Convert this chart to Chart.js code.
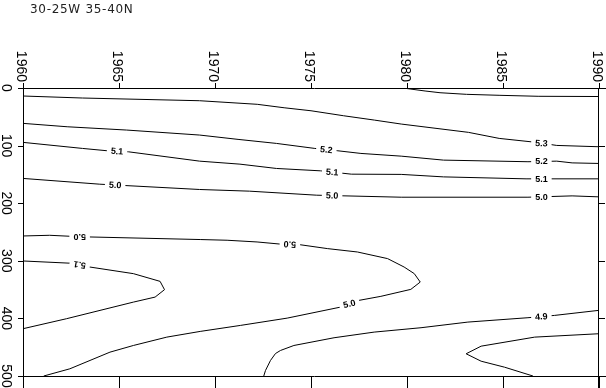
<!DOCTYPE html>
<html lang="en">
  <head>
    <meta charset="utf-8" />
    <title>30-25W 35-40N</title>
    <style>
      * {
        margin: 0;
        padding: 0;
      }
      body {
        background: #fff;
      }
      .chartBox {
        width: 606px;
        height: 388px;
      }
    </style>
  </head>
  <body>
    <div class="chartBox">
      <canvas id="myChart"></canvas>
    </div>
    <script src="https://cdn.jsdelivr.net/npm/chart.js"></script>
    <script>
      // setup
      const title = "30-25W 35-40N";
      const yearTicks = [1960, 1965, 1970, 1975, 1980, 1985, 1990];
      const depthTicks = [0, 100, 200, 300, 400, 500];

      // contour lines as [year, depth]
      const line54 = [[1979.8, 0], [1980.16, 1.7], [1980.94, 5.2], [1981.72, 8.2], [1983.1, 11], [1984.84, 12.7], [1986.83, 14.4], [1990, 14.8]];
      const line53 = [[1960, 13.9], [1963.1, 17.4], [1969.2, 22.1], [1972.2, 28.3], [1973.6, 34.3], [1975, 39.5], [1976.7, 48.2], [1978.3, 55.7], [1979.7, 62.6], [1983.2, 77], [1984.8, 87.5], [1986.6, 93.9], [1987.8, 99.7], [1990, 102]];
      const line52 = [[1960, 61.4], [1962.3, 67.3], [1965.4, 73], [1969.2, 81.7], [1971.2, 89.2], [1973.2, 96.2], [1975.2, 104.9], [1976.4, 109], [1977.6, 113.6], [1979.7, 118.3], [1981.9, 125.2], [1986.3, 128], [1987.8, 127], [1988.6, 130], [1990, 131]];
      const line51 = [[1960, 94.4], [1963.1, 104.9], [1964.4, 109], [1965.5, 110.8], [1969.2, 127], [1971.3, 132.2], [1973.2, 139.7], [1975.5, 143.8], [1977.1, 149.6], [1979.7, 150], [1981.9, 154.3], [1986.2, 157.7], [1990, 157.7]];
      const line50 = [[1960, 157], [1964, 167], [1969.2, 176.2], [1971.8, 179.1], [1975.3, 186.1], [1979.7, 189.6], [1986.3, 189.6], [1988.6, 187.3], [1990, 189]];
      const line50deep = [[1960, 256.9], [1961.39, 255.7], [1962.44, 257.4], [1963.48, 258.6], [1969.23, 263.1], [1970.63, 264.3], [1972.19, 267.3], [1973.5, 271.3], [1974.37, 271.8], [1975.85, 278.8], [1977.42, 284.7], [1978.99, 296.2], [1979.85, 310.8], [1980.38, 322.3], [1980.69, 336.9], [1980.2, 349.6], [1978.64, 361.7], [1977.5, 368.7], [1976.55, 380.3], [1973.76, 399.5], [1971.32, 412.2], [1969.23, 422.6], [1967.49, 432.5], [1965.75, 447], [1964.53, 458.6], [1962.44, 487.5], [1961.08, 500]];
      const line51deep = [[1960, 300.3], [1962.54, 304.3], [1963.48, 310.8], [1965.75, 322.3], [1967.14, 335.7], [1967.37, 350.1], [1966.88, 363], [1965.75, 371.7], [1962.27, 400.5], [1960, 417.9]];
      const line49 = [[1972.54, 500], [1972.63, 490.4], [1972.89, 473], [1973.15, 461], [1973.41, 455.7], [1974.11, 447], [1976.2, 433.6], [1978.29, 423.8], [1980.73, 416.2], [1983.17, 406.4], [1986.3, 398.8], [1987.69, 394.8], [1990, 386]];
      const line48 = [[1990, 426.6], [1986.65, 432.5], [1983.86, 448.2], [1983.08, 461.4], [1983.86, 474.3], [1985.08, 484.7], [1986.56, 500]];

      const contourLines = [line54, line53, line52, line51, line50, line50deep, line51deep, line49, line48];

      // contour labels: [year, depth, text, angle]
      const contourLabels = [
        [1987.0, 96, "5.3", 3],
        [1975.8, 107, "5.2", 6],
        [1987.0, 127.5, "5.2", 0],
        [1964.9, 109.8, "5.1", 4],
        [1976.1, 146, "5.1", 3],
        [1987.0, 157.7, "5.1", 0],
        [1964.8, 168.4, "5.0", 3],
        [1976.1, 186.7, "5.0", 2],
        [1987.0, 189, "5.0", 0],
        [1962.95, 258, "5.0", 180],
        [1973.9, 271.5, "5.0", 183],
        [1962.95, 307, "5.1", 190],
        [1977.0, 374.8, "5.0", -14],
        [1987.0, 396.8, "4.9", -4]
      ];

      const data = {
        datasets: contourLines.map((pts) => ({
          data: pts.map(([x, y]) => ({ x, y })),
          showLine: true,
          borderColor: "#000",
          borderWidth: 1,
          pointRadius: 0,
          tension: 0,
          fill: false
        }))
      };

      // labels sitting on the contour lines
      const contourLabelPlugin = {
        id: "contourLabels",
        afterDatasetsDraw(chart) {
          const {
            ctx,
            scales: { x, y }
          } = chart;
          ctx.save();
          ctx.font = "bold 9px 'Liberation Sans', Arial, sans-serif";
          ctx.textAlign = "center";
          ctx.textBaseline = "middle";
          contourLabels.forEach(([yr, depth, text, angle]) => {
            const px = x.getPixelForValue(yr);
            const py = y.getPixelForValue(depth);
            const w = ctx.measureText(text).width;
            ctx.save();
            ctx.translate(px, py);
            ctx.rotate((angle * Math.PI) / 180);
            ctx.fillStyle = "#fff";
            ctx.fillRect(-w / 2 - 4, -5, w + 8, 10);
            ctx.fillStyle = "#000";
            ctx.fillText(text, 0, 0.5);
            ctx.restore();
          });
          ctx.restore();
        }
      };

      // frame, ticks, rotated tick labels and title
      const framePlugin = {
        id: "frame",
        afterDraw(chart) {
          const {
            ctx,
            chartArea: { left, right, top, bottom },
            scales: { x, y }
          } = chart;
          const W = chart.width;
          const H = chart.height;
          ctx.save();
          ctx.strokeStyle = "#000";
          ctx.lineWidth = 1;
          ctx.beginPath();
          ctx.moveTo(left, top + 0.5);
          ctx.lineTo(W, top + 0.5);
          ctx.moveTo(left, bottom + 0.5);
          ctx.lineTo(W, bottom + 0.5);
          ctx.moveTo(left + 0.5, top);
          ctx.lineTo(left + 0.5, H);
          ctx.moveTo(right - 0.5, top);
          ctx.lineTo(right - 0.5, H);
          yearTicks.forEach((v) => {
            const px = Math.round(x.getPixelForValue(v)) + 0.5;
            ctx.moveTo(px, top - 5);
            ctx.lineTo(px, top);
            ctx.moveTo(px, bottom);
            ctx.lineTo(px, H);
          });
          depthTicks.forEach((v) => {
            const py = Math.round(y.getPixelForValue(v)) + 0.5;
            ctx.moveTo(left - 5, py);
            ctx.lineTo(left, py);
            ctx.moveTo(right, py);
            ctx.lineTo(right + 6, py);
          });
          ctx.stroke();

          ctx.fillStyle = "#000";
          ctx.font = "14px 'Liberation Sans', Arial, sans-serif";
          ctx.textBaseline = "alphabetic";
          // year labels, reading top to bottom
          yearTicks.forEach((v) => {
            const px = x.getPixelForValue(v);
            ctx.save();
            ctx.translate(px - 6.5, top - 6);
            ctx.rotate(Math.PI / 2);
            ctx.textAlign = "right";
            ctx.fillText(String(v), 0, 0);
            ctx.restore();
          });
          // depth labels
          depthTicks.forEach((v) => {
            const py = y.getPixelForValue(v);
            ctx.save();
            ctx.translate(1.5, py);
            ctx.rotate(Math.PI / 2);
            ctx.textAlign = "center";
            ctx.fillText(String(v), 0, 0);
            ctx.restore();
          });

          ctx.fillStyle = "#222";
          ctx.font = "12px 'DejaVu Sans', sans-serif";
          ctx.letterSpacing = "0.7px";
          ctx.textAlign = "left";
          ctx.fillText(title, 30, 13);
          ctx.restore();
        }
      };

      // config
      const config = {
        type: "scatter",
        data,
        options: {
          responsive: true,
          maintainAspectRatio: false,
          animation: false,
          events: [],
          layout: {
            padding: { left: 23, top: 88, right: 7, bottom: 12 }
          },
          plugins: {
            legend: { display: false },
            tooltip: { enabled: false }
          },
          scales: {
            x: {
              type: "linear",
              min: 1960,
              max: 1990,
              display: false
            },
            y: {
              type: "linear",
              min: 0,
              max: 500,
              reverse: true,
              display: false
            }
          }
        },
        plugins: [contourLabelPlugin, framePlugin]
      };

      // render init block
      const myChart = new Chart(document.getElementById("myChart"), config);
    </script>
  </body>
</html>
